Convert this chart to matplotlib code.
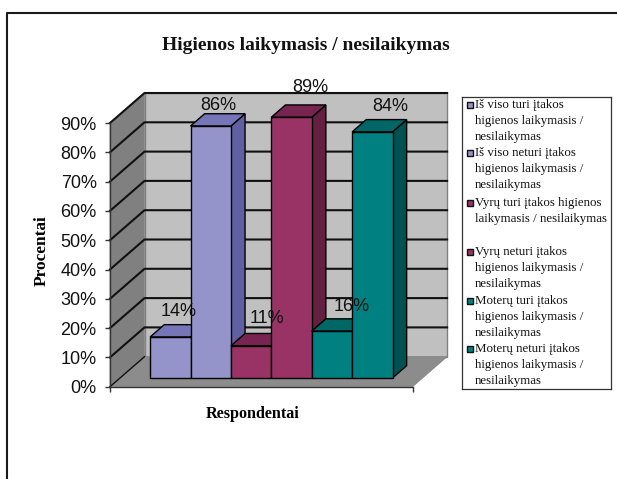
import matplotlib
matplotlib.use("Agg")
import matplotlib.pyplot as plt
from matplotlib.lines import Line2D
from matplotlib.patches import Polygon, Rectangle


W, H = 617, 479
TITLE = "Higienos laikymasis / nesilaikymas"
X_LABEL = "Respondentai"
Y_LABEL = "Procentai"
SERIES = [
    "Iš viso turi įtakos\nhigienos laikymasis /\nnesilaikymas",
    "Iš viso neturi įtakos\nhigienos laikymasis /\nnesilaikymas",
    "Vyrų turi įtakos higienos\nlaikymasis / nesilaikymas",
    "Vyrų neturi įtakos\nhigienos laikymasis /\nnesilaikymas",
    "Moterų turi įtakos\nhigienos laikymasis /\nnesilaikymas",
    "Moterų neturi įtakos\nhigienos laikymasis /\nnesilaikymas",
]
VALUES = [14, 86, 11, 89, 16, 84]
TICKS = [0, 10, 20, 30, 40, 50, 60, 70, 80, 90]

FRONT = ["#9494CB", "#9494CB", "#993366", "#993366", "#008080", "#008080"]
SIDE = ["#6060A0", "#6060A0", "#64203F", "#64203F", "#005252", "#005252"]
TOP = ["#7575B8", "#7575B8", "#772450", "#772450", "#006666", "#006666"]

# nudges of the value labels from the bar top centre, in pixels
LABEL_NUDGE = [(8, 25), (8, 21), (16, 27), (19, 30), (20, 25), (18, 25)]
LEGEND_ROWS = [105, 153, 203, 252, 301, 349]

# axes box in pixels, and how far the 3d depth goes
LEFT, RIGHT, BOTTOM, TOP_Y = 110, 412.6, 386.7, 123
GAP = 0.745
DEPTH_X = 34.5 / ((RIGHT - LEFT) / (6 + 2 * GAP))
DEPTH_Y = 30 / ((BOTTOM - TOP_Y) / 90)
BAR_NEAR, BAR_FAR = 0.29, 0.70
OFF = "#000000"


def project(x, y, depth):
    return x + depth * DEPTH_X, y + depth * DEPTH_Y


def face(ax, corners, color, edge=OFF, lw=1.0, z=2):
    points = [project(*corner) for corner in corners]
    ax.add_patch(Polygon(points, closed=True, facecolor=color, edgecolor=edge,
                         linewidth=lw, zorder=z, clip_on=False))


def draw_walls(ax, x0, x1):
    face(ax, [(x0, 0, 0), (x0, 0, 1), (x0, 90, 1), (x0, 90, 0)], "#808080", "#808080", 0.5, 1)
    face(ax, [(x0, 0, 1), (x1, 0, 1), (x1, 90, 1), (x0, 90, 1)], "#C0C0C0", "#808080", 1.0, 1)
    face(ax, [(x0, 0, 0), (x1, 0, 0), (x1, 0, 1), (x0, 0, 1)], "#8C8C8C", "#808080", 0.5, 1)
    for tick in TICKS[1:]:
        xs, ys = zip(project(x0, tick, 0), project(x0, tick, 1), project(x1, tick, 1))
        ax.plot(xs, ys, color="#111111", lw=1.5, zorder=1.5, clip_on=False)
    xs, ys = zip(project(x0, 0, 0), project(x0, 0, 1))
    ax.plot(xs, ys, color="#111111", lw=1.0, zorder=1.5, clip_on=False)


def draw_bars(ax):
    for i, value in enumerate(VALUES):
        a, b = i, i + 1
        face(ax, [(b, 0, BAR_NEAR), (b, 0, BAR_FAR), (b, value, BAR_FAR), (b, value, BAR_NEAR)], SIDE[i], z=2 + i)
        face(ax, [(a, value, BAR_NEAR), (b, value, BAR_NEAR), (b, value, BAR_FAR), (a, value, BAR_FAR)], TOP[i], z=2 + i)
        face(ax, [(a, 0, BAR_NEAR), (b, 0, BAR_NEAR), (b, value, BAR_NEAR), (a, value, BAR_NEAR)], FRONT[i], z=2 + i)
        ax.annotate(f"{value}%", project(i + 0.5, value, BAR_NEAR), xytext=LABEL_NUDGE[i],
                    textcoords="offset pixels", ha="center", va="center", fontsize=13,
                    family="Liberation Sans", color="#111111", zorder=20, annotation_clip=False)


def draw_legend(fig):
    box = fig.add_axes([461.7 / W, 1 - 389 / H, (611 - 461.7) / W, (389 - 96.7) / H])
    box.set_xlim(461.7, 611)
    box.set_ylim(389, 96.7)
    box.set_xticks([])
    box.set_yticks([])
    for spine in box.spines.values():
        spine.set_linewidth(0.9)
        spine.set_color("#333333")
    for label, row, color in zip(SERIES, LEGEND_ROWS, FRONT):
        box.add_patch(Rectangle((467, row - 3), 5.5, 6, facecolor=color, edgecolor="#111111", linewidth=1.0))
        for n, line in enumerate(label.split("\n")):
            box.text(475, row + n * 16.2, line, family="Liberation Serif", fontsize=9.25,
                     va="center", ha="left", color="#111111", clip_on=False)


def main():
    fig = plt.figure(figsize=(W / 100, H / 100), dpi=100, facecolor="white")
    ax = fig.add_axes([LEFT / W, 1 - BOTTOM / H, (RIGHT - LEFT) / W, (BOTTOM - TOP_Y) / H])
    ax.patch.set_visible(False)
    x0, x1 = -GAP, 6 + GAP
    ax.set_xlim(x0, x1)
    ax.set_ylim(0, 90)

    draw_walls(ax, x0, x1)
    draw_bars(ax)

    ax.spines["top"].set_visible(False)
    ax.spines["right"].set_visible(False)
    for side in ["left", "bottom"]:
        ax.spines[side].set_color("#333333")
        ax.spines[side].set_linewidth(1.0)
        ax.spines[side].set_zorder(30)
    ax.set_yticks(TICKS)
    ax.set_yticklabels([f"{t}%" for t in TICKS], family="Liberation Sans", fontsize=13, color="#111111")
    ax.set_xticks([x0, x1])
    ax.set_xticklabels(["", ""])
    ax.tick_params(axis="both", length=3.6, width=1.0, color="#333333", pad=6)

    ax.set_xlabel(X_LABEL, family="Liberation Serif", fontweight="bold", fontsize=11.6, va="center")
    ax.xaxis.set_label_coords((253 - LEFT) / (RIGHT - LEFT), (BOTTOM - 414) / (BOTTOM - TOP_Y))
    ax.set_ylabel(Y_LABEL, family="Liberation Serif", fontweight="bold", fontsize=12.4, va="center")
    ax.yaxis.set_label_coords((42 - LEFT) / (RIGHT - LEFT), (BOTTOM - 251) / (BOTTOM - TOP_Y))
    fig.text(306 / W, 1 - 45 / H, TITLE, family="Liberation Serif", fontweight="bold",
             fontsize=14, ha="center", va="center", color="#111111")

    draw_legend(fig)

    # page frame, runs off the right and bottom of the crop
    fig.add_artist(Line2D([6.5 / W, 6.5 / W, 1], [0, 1 - 13 / H, 1 - 13 / H], color="#1A1A1A", lw=1.5,
                          transform=fig.transFigure))
    fig.savefig("out.png", dpi=100, facecolor="white")
    plt.close(fig)


if __name__ == "__main__":
    main()
